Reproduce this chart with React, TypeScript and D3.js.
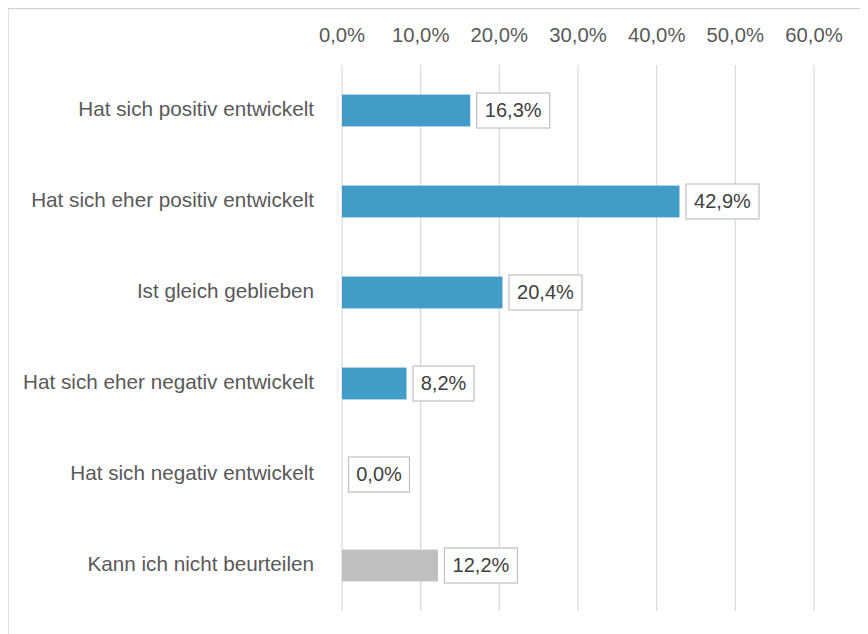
import React from "react";
import * as d3 from "d3";

const categories = [
  "Hat sich positiv entwickelt",
  "Hat sich eher positiv entwickelt",
  "Ist gleich geblieben",
  "Hat sich eher negativ entwickelt",
  "Hat sich negativ entwickelt",
  "Kann ich nicht beurteilen",
];
const values = [16.3, 42.9, 20.4, 8.2, 0.0, 12.2];
const barColors = ["#429cc8", "#429cc8", "#429cc8", "#429cc8", "#429cc8", "#bfbfbf"];
const ticks = [0, 10, 20, 30, 40, 50, 60];

const fmt = (v: number) => v.toFixed(1).replace(".", ",") + "%";

export default function App() {
  const width = 860;
  const height = 626;
  // offsets relative to the svg (body margin is 8px)
  const left = 334;
  const right = 806;
  const top = 57;
  const bottom = 603;

  const x = d3.scaleLinear().domain([0, 60]).range([left, right]);
  const y = d3
    .scaleBand<string>()
    .domain(categories)
    .range([top, bottom])
    .paddingInner(0.65)
    .paddingOuter(0.325);

  const font = "'Liberation Sans', Arial, sans-serif";

  return (
    <svg width={width} height={height} style={{ display: "block" }}>
      <rect x={0} y={0.5} width={width + 20} height={height + 20} fill="white" stroke="#cfcfcf" strokeWidth={1.3} />

      {/* gridlines */}
      {ticks.map((t) => (
        <line key={"g" + t} x1={x(t)} x2={x(t)} y1={top} y2={bottom} stroke="#d9d9d9" strokeWidth={1.2} />
      ))}

      {/* tick labels */}
      {ticks.map((t) => (
        <text key={"t" + t} x={x(t)} y={34} textAnchor="middle" fontFamily={font} fontSize={20.3} fill="#595959">
          {fmt(t)}
        </text>
      ))}

      {/* bars */}
      {categories.map((c, i) => (
        <rect key={"b" + c} x={x(0)} y={y(c)} width={x(values[i]) - x(0)} height={y.bandwidth()} fill={barColors[i]} />
      ))}

      {/* category labels */}
      {categories.map((c) => (
        <text
          key={"c" + c}
          x={306}
          y={(y(c) as number) + y.bandwidth() / 2}
          dy="0.27em"
          textAnchor="end"
          fontFamily={font}
          fontSize={20.7}
          fill="#595959"
        >
          {c}
        </text>
      ))}

      {/* value labels in boxes */}
      {categories.map((c, i) => {
        const label = fmt(values[i]);
        const bw = label.length === 4 ? 61 : 73;
        const bx = x(values[i]) + 6.5;
        const cy = (y(c) as number) + y.bandwidth() / 2;
        return (
          <g key={"v" + c}>
            <rect x={bx} y={cy - 17.5} width={bw} height={35} fill="white" stroke="#bfbfbf" strokeWidth={1.2} />
            <text x={bx + bw / 2} y={cy} dy="0.33em" textAnchor="middle" fontFamily={font} fontSize={20} fill="#404040">
              {label}
            </text>
          </g>
        );
      })}
    </svg>
  );
}
